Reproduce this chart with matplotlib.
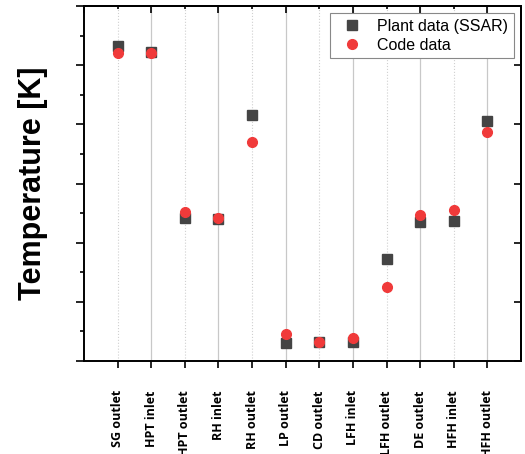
import numpy as np
from matplotlib import pyplot as plt
from matplotlib.ticker import MultipleLocator

# stations along the loop
stations = ['SG outlet', 'HPT inlet', 'HPT outlet', 'RH inlet', 'RH outlet',
            'LP outlet', 'CD outlet', 'LFH inlet', 'LFH outlet', 'DE outlet',
            'HFH inlet', 'HFH outlet']
# temperatures [K]
plant = [566.2, 561.1, 421.1, 420.0, 507.9, 315.5, 316.1, 316.3, 385.9, 417.7, 418.3, 503.1]
code = [560.5, 560.5, 425.7, 420.6, 485.3, 322.8, 315.8, 319.2, 362.3, 423.4, 427.6, 493.8]

x = np.arange(1, len(stations) + 1)

fig = plt.figure(figsize=(5.25, 4.54), dpi=100)
ax = fig.add_axes([0.16, 0.2048, 0.8324, 0.782])

# vertical grid: solid on even positions, dotted on odd ones
for xi in range(1, 13):
    if xi % 2 == 0:
        ax.axvline(xi, color='#c8c8c8', lw=0.9, zorder=0)
    else:
        ax.axvline(xi, color='#d0d0d0', lw=0.8, ls=':', zorder=0)

ax.plot(x, plant, 's', color='#444444', ms=6.5, label='Plant data (SSAR)', zorder=3)
ax.plot(x, code, 'o', color='#f03a3a', ms=7, label='Code data', zorder=4)

ax.set_xlim(0, 13)
ax.set_ylim(300, 600)
ax.set_xticks(x)
ax.set_xticklabels(stations, rotation=90, fontsize=9, fontweight='bold',
                   family='Open Sans')
ax.tick_params(axis='x', direction='out', length=5, width=1.2, pad=16)

ax.yaxis.set_major_locator(MultipleLocator(50))
ax.yaxis.set_minor_locator(MultipleLocator(25))
ax.tick_params(axis='y', which='major', direction='out', length=6, width=1.2,
               labelleft=False)
ax.tick_params(axis='y', which='minor', direction='out', length=3, width=1.2)

# top / right axes with inward ticks, no labels
top = ax.secondary_xaxis('top')
top.set_xticks(range(0, 14, 2))
top.xaxis.set_minor_locator(MultipleLocator(1))
top.tick_params(which='major', direction='in', length=5, width=1.2, labeltop=False)
top.tick_params(which='minor', direction='in', length=2.5, width=1.2)
right = ax.secondary_yaxis('right')
right.yaxis.set_major_locator(MultipleLocator(50))
right.yaxis.set_minor_locator(MultipleLocator(25))
right.tick_params(which='major', direction='in', length=5, width=1.2, labelright=False)
right.tick_params(which='minor', length=0)

for s in ax.spines.values():
    s.set_linewidth(1.4)
top.spines['top'].set_linewidth(1.4)
right.spines['right'].set_linewidth(1.4)

ax.set_ylabel('Temperature [K]', fontsize=22, fontweight='bold',
              family='Liberation Sans')
ax.yaxis.set_label_coords(-0.082, 0.5)

leg = ax.legend(loc='upper right', numpoints=1, fancybox=False,
                prop={'family': 'Liberation Sans', 'size': 11.5},
                edgecolor='#888888', framealpha=1, borderpad=0.35,
                handletextpad=0.6, labelspacing=0.25, borderaxespad=0.45)
leg.get_frame().set_linewidth(0.8)

plt.savefig('out.png', dpi=100)
